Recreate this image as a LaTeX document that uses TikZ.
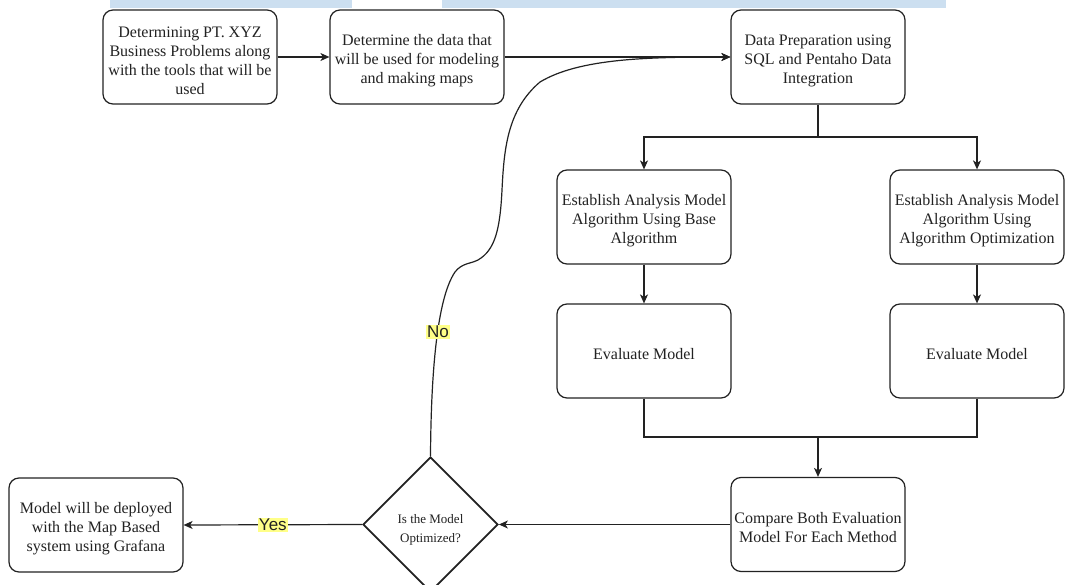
\documentclass[tikz,border=0pt]{standalone}
\usepackage{fontspec}
\setmainfont{Liberation Serif}
\newfontfamily\lsans{Liberation Sans}
\usetikzlibrary{shapes.geometric,arrows.meta}
\definecolor{band}{HTML}{CCDFF0}
\definecolor{hl}{HTML}{FFFF88}
\definecolor{ink}{HTML}{222222}
\newcommand\tfirst{\rule{0pt}{18pt}}
\newcommand\dfirst{\rule{0pt}{20pt}}
\tikzset{
  box/.style={draw=ink, line width=1.2pt, rounded corners=10pt, minimum width=174pt, minimum height=94pt,
    inner sep=0pt, align=center, text=ink, font=\fontsize{16}{19}\selectfont},
  decision/.style={diamond, draw=ink, line width=1.8pt, minimum width=135pt, minimum height=135pt,
    inner sep=0pt, aspect=1, align=center, text=ink, font=\fontsize{13}{19}\selectfont},
  conn/.style={draw=ink, line width=1.2pt},
  arr/.style={conn, -{Stealth[length=9pt,width=8pt,inset=2.5pt]}},
  lbl/.style={fill=hl, inner sep=1pt, text=ink, font=\lsans\fontsize{17}{19}\selectfont},
}
\begin{document}
\begin{tikzpicture}[x=1pt,y=-1pt]
\clip (0,0) rectangle (1065,585);
\fill[white] (0,0) rectangle (1065,585);
% screenshot bands at top
\fill[band] (110,0) rectangle (352,8.5);
\fill[band] (442,0) rectangle (946,8.5);

\node[box] (b1) at (190,57) {\tfirst Determining PT. XYZ\\Business Problems along\\with the tools that will be\\used};
\node[box] (b2) at (417,57) {\tfirst Determine the data that\\will be used for modeling\\and making maps};
\node[box] (b3) at (818,57) {\tfirst Data Preparation using\\SQL and Pentaho Data\\Integration};
\node[box] (b4) at (644,217) {\tfirst Establish Analysis Model\\Algorithm Using Base\\Algorithm};
\node[box] (b5) at (977,217) {\tfirst Establish Analysis Model\\Algorithm Using\\Algorithm Optimization};
\node[box] (b6) at (644,351) {\tfirst Evaluate Model};
\node[box] (b7) at (977,351) {\tfirst Evaluate Model};
\node[box] (b8) at (818,524.5) {\tfirst Compare Both Evaluation\\Model For Each Method};
\node[decision] (dia) at (430.5,524.5) {\dfirst Is the Model\\Optimized?};
\node[box] (b9) at (96,525) {\tfirst Model will be deployed\\with the Map Based\\system using Grafana};

\coordinate (split) at (818,137);
\coordinate (merge) at (818,437);

\draw[arr] (b1.east) -- (b2.west);
\draw[arr] (b2.east) -- (b3.west);
\draw[conn] (b3.south) -- (split);
\draw[arr] (split) -| (b4.north);
\draw[arr] (split) -| (b5.north);
\draw[arr] (b4.south) -- (b6.north);
\draw[arr] (b5.south) -- (b7.north);
\draw[conn] (b6.south) |- (merge);
\draw[conn] (b7.south) |- (merge);
\draw[arr] (merge) -- (b8.north);
\draw[arr] (b8.west) -- (dia.east);
\draw[arr] (dia.west) -- node[lbl] (yes) {Yes} (b9.east);
\draw[arr] (dia.north) .. controls (431,380) and (436,300) .. (455,272)
  .. controls (462,263) and (470,264) .. (478,260)
  .. controls (495,250) and (500,230) .. (502,190)
  .. controls (504,150) and (507,110) .. (540,82)
  .. controls (580,58) and (650,57) .. (b3.west);
\node[lbl] (no) at (438,332) {No};
\end{tikzpicture}
\end{document}
